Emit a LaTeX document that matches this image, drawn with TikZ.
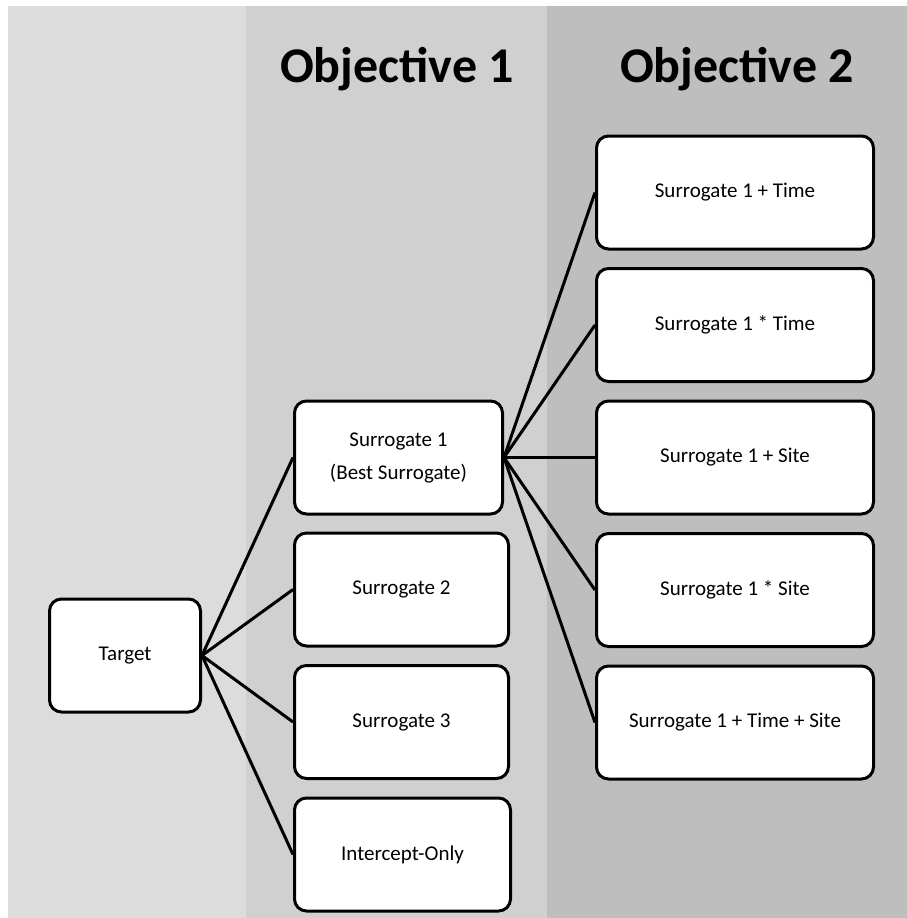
\documentclass[tikz,border=0pt]{standalone}
\usepackage{fontspec}
\setmainfont{Carlito}
\usetikzlibrary{positioning}
\definecolor{bandA}{gray}{0.863}
\definecolor{bandB}{gray}{0.816}
\definecolor{bandC}{gray}{0.745}
\tikzset{
    model/.style={
        rectangle,
        rounded corners=12pt,
        draw=black, line width=3pt,
        fill=white,
        minimum height=113pt,
        inner sep=0pt,
        align=center,
        font={\fontsize{21pt}{33pt}\selectfont}
    },
    link/.style={draw, line width=3pt},
    heading/.style={
        anchor=base,
        font={\fontsize{50pt}{60pt}\selectfont\bfseries}
    },
}

\begin{document}
\begin{tikzpicture}[x=1pt, y=-1pt]

\useasboundingbox (0,0) rectangle (907,918);

% column backgrounds
\fill [bandA] (8,6) rectangle (246,918);
\fill [bandB] (246,6) rectangle (547,918);
\fill [bandC] (547,6) rectangle (907,918);

\foreach \l/\x [count=\i] in {Objective 1/397, Objective 2/737}
  \node [heading] (head-\i) at (\x,82) {\l};

\node [model, minimum width=151pt] (target) at (125,655.5) {Target};

\foreach \l/\w/\x/\y [count=\i] in {{Surrogate 1\\(Best Surrogate)}/208/398.5/457.5,
    Surrogate 2/214/401.5/589.5, Surrogate 3/214/401.5/722,
    Intercept-Only/216/402.5/854.5}
  \node [model, minimum width=\w pt] (obj1-\i) at (\x,\y) {\l};

\foreach \l [count=\i] in {Surrogate 1 + Time, Surrogate 1 * Time,
    Surrogate 1 + Site, Surrogate 1 * Site, Surrogate 1 + Time + Site}
  \node [model, minimum width=277pt] (obj2-\i) at (735,60+\i*132.5) {\l};

\foreach \j in {1,...,4}
  \draw [link] (target.east) -- (obj1-\j.west);

\foreach \j in {1,...,5}
  \draw [link] (obj1-1.east) -- (obj2-\j.west);

\end{tikzpicture}
\end{document}
